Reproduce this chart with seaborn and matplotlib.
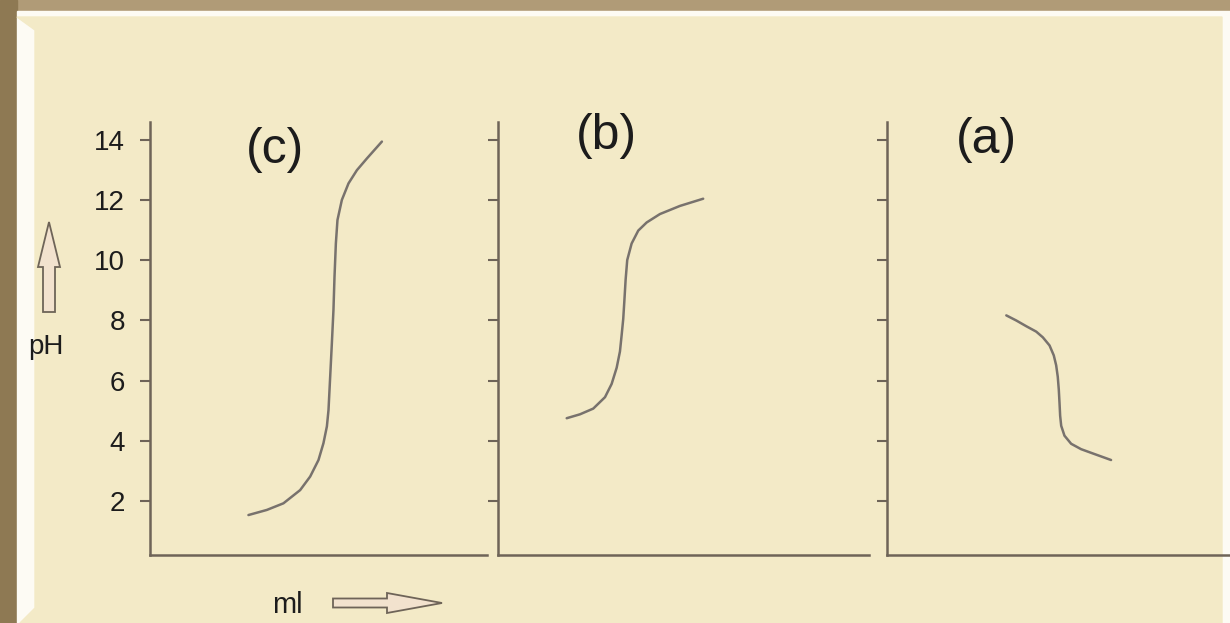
import numpy as np
import pandas as pd
import matplotlib
matplotlib.use('Agg')
import matplotlib.pyplot as plt
import matplotlib.patches as mpatches
import seaborn as sns

sns.set_theme(style='white')
plt.rcParams['font.family'] = ['Liberation Sans', 'DejaVu Sans']

# titration curves (x in ml, y in pH)
ml_c = [12.29, 14.59, 16.66, 18.75, 20.0, 21.04, 21.66, 22.09, 22.29, 22.5,
        22.71, 22.91, 23.04, 23.21, 23.41, 23.96, 24.79, 25.84, 27.09, 28.96]
ph_c = [1.53, 1.70, 1.92, 2.36, 2.81, 3.36, 3.92, 4.48, 5.02, 6.13,
        7.24, 8.35, 9.45, 10.56, 11.34, 12.01, 12.56, 13.0, 13.39, 13.95]

ml_b = [8.59, 10.25, 11.91, 13.38, 14.21, 14.84, 15.25, 15.46, 15.66,
        15.79, 15.96, 16.16, 16.71, 17.54, 18.59, 20.25, 22.75, 25.66]
ph_b = [4.75, 4.88, 5.07, 5.45, 5.89, 6.43, 6.97, 7.51, 8.05,
        8.60, 9.36, 10.01, 10.56, 10.99, 11.26, 11.54, 11.81, 12.05]

ml_a = [14.96, 16.21, 17.46, 18.71, 19.54, 20.38, 20.91, 21.21, 21.41,
        21.54, 21.63, 21.71, 21.84, 22.25, 23.09, 24.34, 25.79, 28.09]
ph_a = [8.17, 8.00, 7.81, 7.63, 7.44, 7.17, 6.84, 6.51, 6.13,
        5.70, 5.26, 4.83, 4.50, 4.17, 3.90, 3.72, 3.58, 3.36]

ph_ticks = [2, 4, 6, 8, 10, 12, 14]
panel_names = ['(c)', '(b)', '(a)']

cream = '#F3EAC7'
axis_col = '#6E6458'
curve_col = '#78726D'
text_col = '#1C1C1C'

fig = plt.figure(figsize=(12.3, 6.23), dpi=100, facecolor='#A38D67')

# background frame drawn in pixel coordinates
bg = fig.add_axes([0, 0, 1, 1], zorder=-1)
bg.set_xlim(0, 1230)
bg.set_ylim(623, 0)
bg.axis('off')
bg.add_patch(mpatches.Rectangle((0, 0), 1230, 12, color='#B09B77'))
bg.add_patch(mpatches.Rectangle((0, 0), 17, 623, color='#8E7953'))
bg.add_patch(mpatches.Rectangle((17, 11), 1213, 612, color='#FDFBF4'))
bg.add_patch(mpatches.Polygon([(17, 17), (1222, 17), (1222, 623), (20, 623),
                               (35, 608), (35, 30)], closed=True, color=cream))

# decorations: axis arrows and labels
bg.add_patch(mpatches.FancyArrow(49, 312, 0, -90, width=12, head_width=22, head_length=45,
                                 length_includes_head=True, fc='#F2E2CE', ec=axis_col, lw=1.3))
bg.add_patch(mpatches.FancyArrow(333, 603, 109, 0, width=9, head_width=20, head_length=55,
                                 length_includes_head=True, fc='#F2E2CE', ec=axis_col, lw=1.3))
bg.text(46, 347, 'pH', fontsize=20, color=text_col, ha='center', va='center')
bg.text(287, 605, 'ml', fontsize=21, color=text_col, ha='center', va='center')

# panel axes: [left, bottom, width, height] in figure fractions
boxes = [[0.1220, 0.1091, 0.2740, 0.6950],
         [0.4049, 0.1091, 0.3016, 0.6950],
         [0.7211, 0.1091, 0.2789, 0.6950]]
xmax = [42.1, 46.4, 43.0]
curves = [(ml_c, ph_c), (ml_b, ph_b), (ml_a, ph_a)]
title_xy = [(275, 150), (606, 136), (986, 140)]

for i, box in enumerate(boxes):
    ax = fig.add_axes(box)
    ax.set_facecolor('none')
    df = pd.DataFrame({'ml': curves[i][0], 'pH': curves[i][1]})
    sns.lineplot(data=df, x='ml', y='pH', sort=False, color=curve_col, lw=1.8, ax=ax,
                 solid_joinstyle='round', solid_capstyle='round')
    ax.set_xlim(0, xmax[i])
    ax.set_ylim(0.2, 14.6)
    ax.set_yticks(ph_ticks)
    ax.set_xticks([])
    ax.set_xlabel('')
    ax.set_ylabel('')
    for s in ['top', 'right']:
        ax.spines[s].set_visible(False)
    for s in ['left', 'bottom']:
        ax.spines[s].set_color(axis_col)
        ax.spines[s].set_linewidth(1.8)
    ax.tick_params(axis='y', direction='out', length=7, width=1.5, color=axis_col,
                   labelsize=20, labelcolor=text_col, pad=11, left=True)
    if i > 0:
        ax.set_yticklabels([])
    bg.text(title_xy[i][0], title_xy[i][1], panel_names[i], fontsize=36,
            color=text_col, ha='center', va='center')

fig.savefig('out.png', dpi=100, facecolor=fig.get_facecolor())
